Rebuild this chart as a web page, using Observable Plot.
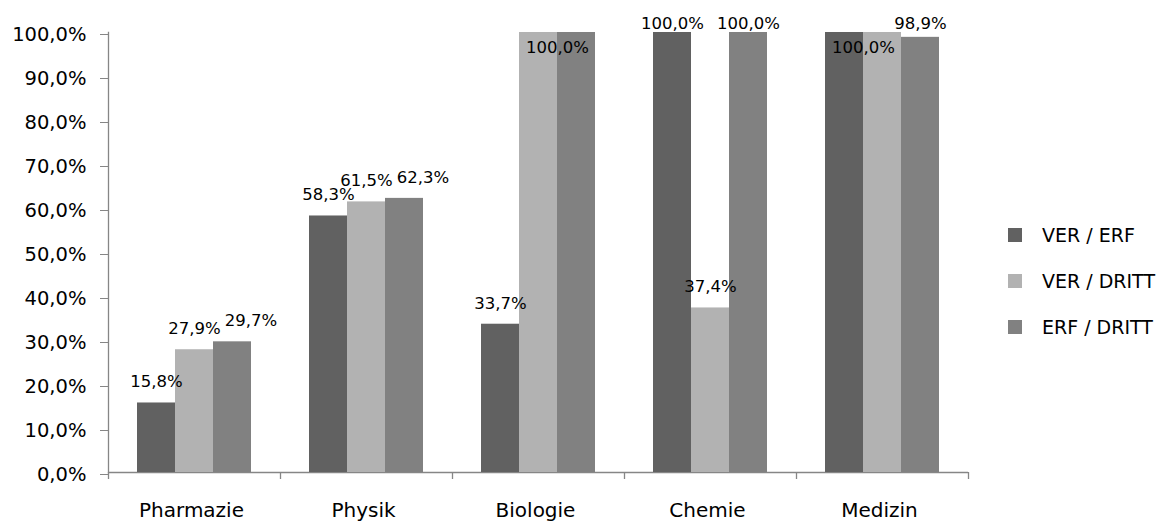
<!DOCTYPE html>
<html><head><meta charset="utf-8">
<script src="https://cdn.jsdelivr.net/npm/d3@7"></script>
<script src="https://cdn.jsdelivr.net/npm/@observablehq/plot@0.6"></script>
<style>
body{margin:0;background:#fff;}
#wrap{position:relative;width:1159px;height:524px;overflow:hidden;background:#fff;}
#legend{position:absolute;left:1008px;top:212px;font:19px "DejaVu Sans";color:#000;}
.row{display:flex;align-items:center;height:46px;white-space:nowrap;}
.sw{width:14px;height:14px;margin-right:20px;flex:none;}
</style></head><body>
<div id="wrap"><div id="chart"></div><div id="legend"></div></div>
<script>
const categories = ["Pharmazie", "Physik", "Biologie", "Chemie", "Medizin"];
const series = ["VER / ERF", "VER / DRITT", "ERF / DRITT"];
const verErf   = [15.8, 58.3, 33.7, 100.0, 100.0];
const verDritt = [27.9, 61.5, 100.0, 37.4, 100.0];
const erfDritt = [29.7, 62.3, 100.0, 100.0, 98.9];
const yTicks = [0, 10, 20, 30, 40, 50, 60, 70, 80, 90, 100];
const colors = ["#616161", "#b2b2b2", "#818181"];

const values = [verErf, verDritt, erfDritt];
const rows = categories.flatMap((c, i) => series.map((s, j) => ({cat: c, series: s, value: values[j][i]})));
const fmt = v => v.toFixed(1).replace(".", ",") + "%";

const W = 1159, H = 524, mL = 108, mR = 191, mT = 32, mB = 52;
const axisColor = "#868686";
const font = "DejaVu Sans";
const step = (W - mL - mR) / categories.length;
const outer = 0.763;

// label placement (simple collision avoidance, Excel-like)
const ys = Plot.scale({y: {domain: [0, 100], range: [H - mB, mT]}});
const xs = Plot.scale({x: {type: "band", domain: series, range: [0, step], paddingInner: 0, paddingOuter: outer}});
const ctx = document.createElement("canvas").getContext("2d");
ctx.font = `16.5px "${font}"`;
const lift = 21, topLimit = 23, boxH = 14;
const labels = [];
categories.forEach((c, i) => {
  const placed = [];
  series.forEach((s, j) => {
    const v = values[j][i], text = fmt(v);
    const w = ctx.measureText(text).width;
    const bx = xs.apply(s) + xs.bandwidth / 2;
    const by = ys.apply(v);
    let L = {cat: c, series: s, value: v, text, w, bx, by, cx: bx, cy: Math.max(by - lift, topLimit)};
    for (const p of placed) {
      if (Math.abs(p.cy - L.cy) < boxH && Math.abs(p.cx - L.cx) < (p.w + L.w) / 2) {
        if (p.text === L.text) { p.cx = (p.cx + L.cx) / 2; p.cy += 24; L = null; break; }
        L.cx = p.cx + (p.w + L.w) / 2 + 4;
      }
    }
    if (L) placed.push(L);
  });
  labels.push(...placed);
});

const chart = Plot.plot({
  width: W, height: H,
  marginLeft: mL, marginRight: mR, marginTop: mT, marginBottom: mB,
  style: {fontFamily: font, fontSize: "19px", color: "#000", background: "#fff"},
  fx: {domain: categories, padding: 0, label: null},
  x: {domain: series, paddingInner: 0, paddingOuter: outer, axis: null},
  y: {domain: [0, 100], label: null},
  color: {domain: series, range: colors},
  marks: [
    Plot.ruleY([0], {stroke: axisColor, strokeWidth: 1.3}),
    Plot.frame({anchor: "left", facetAnchor: "left", stroke: axisColor, strokeWidth: 1.3}),
    Plot.barY(rows, {fx: "cat", x: "series", y: "value", fill: "series"}),
    Plot.axisY({ticks: yTicks, tickFormat: fmt, tickSize: 8, tickPadding: 14, stroke: axisColor, fill: "#000", fontSize: 19.5, label: null, dy: 2}),
    Plot.axisFx({anchor: "bottom", tickSize: 0, tickPadding: 30, label: null, fontSize: 20, fill: "#000", dx: -3}),
    Plot.axisFx({anchor: "bottom", tickSize: 7, tickFormat: () => "", label: null, stroke: axisColor, strokeWidth: 1.3, dx: -step / 2}),
    Plot.axisFx({anchor: "bottom", ticks: [categories[categories.length - 1]], tickSize: 7, tickFormat: () => "", label: null, stroke: axisColor, strokeWidth: 1.3, dx: step / 2}),
    ...labels.map(p => Plot.text([p], {fx: "cat", x: "series", y: "value", text: "text", dx: p.cx - p.bx, dy: p.cy - p.by, fontSize: 16.5, fill: "#000"}))
  ]
});
document.getElementById("chart").appendChild(chart);

const legend = document.getElementById("legend");
series.forEach((s, j) => {
  const row = document.createElement("div");
  row.className = "row";
  const sw = document.createElement("div");
  sw.className = "sw";
  sw.style.background = colors[j];
  const t = document.createElement("span");
  t.textContent = s;
  row.appendChild(sw); row.appendChild(t);
  legend.appendChild(row);
});
</script>
</body></html>
